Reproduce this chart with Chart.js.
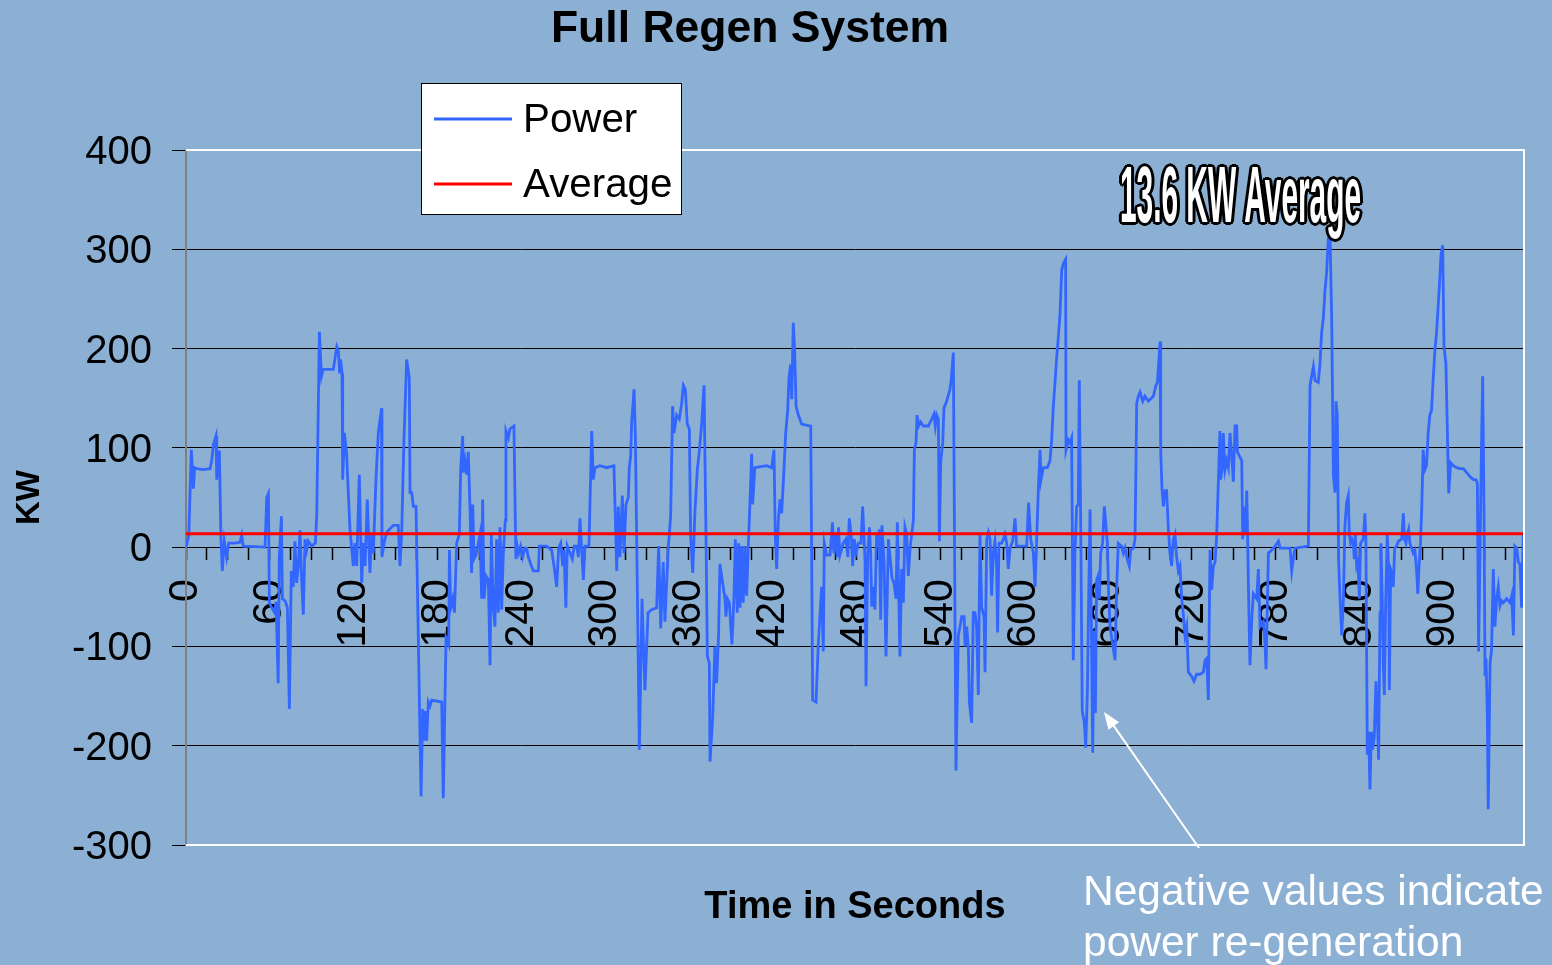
<!DOCTYPE html>
<html><head><meta charset="utf-8">
<script src="https://cdn.jsdelivr.net/npm/chart.js@4.4.1/dist/chart.umd.min.js"></script>
<style>
html,body{margin:0;padding:0;background:#8CB0D4;overflow:hidden}
#wrap{position:relative;width:1552px;height:965px}
</style></head><body>
<div id="wrap"><canvas id="c"></canvas></div>
<script>
const TITLE = 'Full Regen System';
const X_TITLE = 'Time in Seconds';
const Y_TITLE = 'KW';
const SERIES_NAMES = ['Power', 'Average'];
const AVERAGE_KW = 13.6;
const AVERAGE_LABEL = '13.6 KW Average';
const NOTE_LINES = ['Negative values indicate', 'power re-generation'];
const Y_MIN = -300, Y_MAX = 400, Y_STEP = 100;
const X_MIN = 0, X_MAX = 958, X_TICK_EVERY = 15, X_LABEL_EVERY = 60;

// time (s) of each read vertex
const times = [
0,2,3.8,5.3,6.2,7.6,12.4,17.2,18.4,19.6,21.5,22,22.9,23.9,25,26,27.4,29.1,30.5,35,38.7,39.9,41,56.6,57.8,59,59.7,61,63.5,64.5,66,66.8,68.3,69,71,72.6,74,75.4,76.8,78,79.2,80.4,81.6,82.8,84,85.2,86.4,87.5,90,92.6,93.6,95.5,97,98.2,105.5,108,109.1,110,110.7,111.7,112.2,113.4,114.9,117.4,119.8,121,122.2,124.1,125.8,127,128.2,129.8,131.7,132.9,134.1,136,137.7,140,140.3,141.8,143.7,148.4,152,153.2,154.4,156,158,159.9,160.4,
161.6,162.8,164.7,168.3,169.5,170.4,171.1,172.3,173.5,174.7,175.9,183.1,184.2,186.2,188.1,188.6,189.5,191,192.2,193.8,195.7,196.7,198.1,198.6,199.8,201,202.1,203.3,204.5,205.3,206.2,207.6,209.3,210.5,211.7,212.4,213.4,214.8,216.5,217.7,218.6,220,221.2,222.4,223.6,224.8,226,227.2,228.6,229.1,230.8,231.9,234.8,236.2,237.2,238.2,239.6,241,242.7,243.9,245.1,246.8,248.7,252.3,253,258.3,261.8,263.5,265.4,266.8,268.3,269.7,270.6,272,273,274.9,276.6,278,279.7,280.9,282.1,283.3,284.5,285.7,288.5,290.5,291.6,292.8,296.4,301.2,306.4,308.4,309.5,310.7,312.4,313.6,315,316.7,317.4,318.4,319.1,320.8,321.7,322.7,324.6,326.5,328.6,330.8,
333.4,337,338.4,339.9,341.7,342.9,345.3,347,348.4,349.4,351.3,353.2,354.9,356.1,357.5,358.9,360.4,361.3,362.8,364.4,366.1,367.5,369.2,370.9,372.3,373.3,374.7,375.2,377.1,378.7,379.9,381.3,382.3,383.5,385.9,386.6,387.6,389,390.9,392.3,393.3,394.7,395.7,396.7,397.9,399,400.2,401.4,402.6,403.8,405,405.7,407.3,415.7,419.3,421,421.9,422.9,424.1,425.3,426.5,427.7,429.4,430.8,431.7,432.9,433.7,434.8,435.8,436.8,438.4,440.8,447.3,448.7,451.1,452.7,455.1,456.3,457,458.7,461.1,462.9,463.9,465.3,466.3,467.2,468.2,470.6,472.5,473.9,474.9,476.3,477.3,478.5,479.7,481.4,483.3,484.5,486.2,486.9,488.1,489.3,490.2,491,492.1,493.3,494.5,495.7,
496.4,497.4,498.3,499.8,501.2,502.9,504.1,505.5,506.9,508.4,509.3,510.3,511.2,512.4,513.6,514.8,516,517.2,518.4,519.6,520.8,521.5,522.7,523.4,524.6,526,527.9,531.5,533.9,535.5,536.5,537.5,538.7,539.4,540.4,541.8,542.7,544.6,547,548,549.4,551.3,553,554.2,555.4,557.1,557.8,559,560.2,560.9,562.5,563.7,564.9,566.1,567.3,568.5,569.7,571.4,572.1,573.3,574.5,575.7,576.8,578,579.2,580.4,581.1,582.1,584,585.2,586.4,587.6,588.8,590,591.9,593.6,594.7,601.9,603.3,604.8,606.7,607.9,609.1,610.3,611.5,612.2,613.8,616.7,618.6,619.8,621,622.2,623.4,624.6,625.8,627,628.2,629.8,630.1,631.8,632.9,634.1,635.3,636.5,637.7,638.9,639.6,640.8,641.7,643.2,644.2,645.4,646.3,647.3,648.2,649.2,650.1,651.1,652,653,654,654.9,656.3,657.5,658.7,659.7,660.6,
661.6,665.2,666.3,667.5,669.9,671.1,672.3,673.5,675.4,676.4,678.3,679.5,680.7,681.9,683.1,685,686.6,689,692.6,694.5,695.5,696.4,697.4,697.9,698.8,699.8,701,702.1,703.3,704.5,705.7,706.9,708.1,709.3,710.5,711.7,712.9,714.1,715.3,716.5,717.7,720,721.7,723.6,726,728.4,729.6,730.8,732,733.2,734.4,735.6,736.8,738,739.2,740.3,740.8,741.8,742.7,743.9,745.1,746.3,747.5,748.7,749.9,751.1,752.3,752.8,754.2,755.9,756.6,757.6,758.5,759.5,760.2,760.7,761.8,763,764.2,766.6,767.8,769,771.4,772.6,773.3,775,777.4,779.8,782.2,783.4,790.5,791.7,792.8,794,803.6,804.8,807.2,808.4,810.7,811.9,813.1,814.3,815.5,816.7,817.9,819.1,820.3,821.5,
822.7,823.4,824.3,825.3,826.3,827.5,828.7,829.8,831,832.2,832.9,833.9,834.8,835.8,836.5,837.2,838.2,839.1,840.1,841,842.9,844.1,844.8,845.8,846.8,847.7,848.7,849.6,850.8,852,852.9,853.9,854.9,855.6,856.5,857.3,858,859,860.1,861.1,861.6,862.5,863.5,864.4,865.4,866.8,868,870.4,871.6,872.5,873.5,874.4,875.4,876.3,877.5,878.7,879.9,881.1,882,883,883.9,884.8,885.8,887,888.2,889.4,890.6,891.8,893,894.2,895.4,896.2,897.4,898.6,899.8,900.7,902.1,903.1,904.1,905.5,907.4,909.8,912.2,914.6,917,919.3,921.7,923.6,924.6,925.5,926.5,927.4,928.4,929.4,930.1,930.8,931.7,932.4,933.7,934.8,936,937.2,938.4,939.6,940.8,942,943.2,945.6,948,949.2,950.4,951.5,952.7,953.9,955.1,956.3,957.5,958
];

// power (kW) at each vertex
const power = [
0,12,98,59,80,79,78,79,87,103,112,68,96,96,10,-24,6,-10,4,4,5,12,1,0,50,54,-56,-60,-66,-55,-137,-10,31,-52,-54,-61,-163,-24,-40,6,-36,-19,17,-33,-68,8,-3,6,1,4,31,217,172,179,179,202,198,175,189,175,68,115,96,18,-19,4,-19,73,-36,4,-19,48,-26,13,-6,68,115,140,-10,4,15,22,22,-19,13,105,189,170,55,
55,41,41,-251,-163,-195,-165,-195,-156,-160,-154,-156,-253,-91,-98,-3,-61,-52,-66,4,13,80,112,75,87,73,96,41,-26,43,-12,-8,4,13,-52,48,-52,-29,-33,-119,13,-61,-80,8,-66,20,-63,-6,27,117,110,119,122,-12,1,-6,1,-10,-1,-1,-10,-17,-24,-24,1,1,-3,-19,-40,-1,4,-19,-3,-61,1,-6,-12,1,1,-10,29,-3,-33,1,1,117,68,80,82,80,82,-24,41,-10,52,-6,43,50,80,92,126,159,115,8,-204,-52,-144,-66,
-63,-61,1,-82,-15,-75,-1,31,142,115,133,129,145,163,159,124,119,13,-26,36,78,96,124,163,13,-110,-117,-216,-172,-100,-137,-89,-17,-29,-52,-70,-52,-56,-98,-52,8,-66,4,-61,1,-56,1,-49,1,45,94,43,80,82,80,98,13,-22,27,48,34,66,115,138,170,184,149,226,198,142,133,124,122,-154,-156,-98,-40,-105,4,-8,-8,25,-6,13,-10,20,-8,4,8,-10,29,13,-19,8,-6,4,4,41,-15,-140,-6,20,-6,-60,-40,-63,15,1,
18,-73,22,-15,-110,8,-10,-31,-36,-52,25,-47,-110,-22,-56,20,13,-29,-1,13,27,98,105,133,122,126,122,122,129,134,122,133,129,6,87,105,140,147,159,170,196,-225,-89,-80,-70,-70,-100,-80,-103,-156,-177,-66,-66,-80,-149,13,-61,-70,-126,8,15,8,-49,-6,6,-19,-86,4,4,8,13,4,-22,-1,6,29,1,1,45,8,-6,-40,8,59,98,68,80,80,87,108,142,166,191,212,235,279,286,290,98,108,105,110,-114,-6,41,43,168,-6,-165,-177,-202,-144,-52,38,-73,-207,-84,-167,-33,-29,-52,-6,4,41,22,4,-47,
-80,-114,-43,4,1,-6,-1,-10,-19,-3,-1,8,145,152,156,147,152,147,152,163,166,184,207,96,59,41,57,57,20,-6,-19,8,13,-10,-24,-19,-52,-68,-89,-80,-126,-130,-135,-128,-128,-126,-114,-112,-154,-3,-43,-19,-15,13,68,117,68,78,115,78,87,80,115,92,66,122,122,96,92,87,8,41,13,57,4,-40,-119,-75,-47,-52,-22,-80,-75,-98,-123,-6,-3,1,6,-1,-1,-24,-12,-1,1,163,182,168,166,184,216,230,258,277,311,315,230,73,
55,147,133,-15,-52,-89,-52,22,45,52,13,4,8,4,-12,13,-19,-15,-52,4,8,34,8,-209,-186,-244,-186,-204,-191,-135,-167,-214,-66,4,-52,-121,-149,-52,13,-24,-144,-22,-26,-40,-1,1,6,8,34,8,4,13,18,4,-1,-6,-3,-24,-47,-15,4,41,98,78,82,115,133,138,170,198,216,235,263,295,304,203,184,119,54,85,82,80,79,79,75,71,68,68,64,-105,-6,87,172,31,-130,-112,-163,-264,-117,-103,-22,-80,-52,-40,-59,-54,-56,-52,-56,-49,-89,1,-1,-15,-17,-61,13,13
];

const averageTimes = [X_MIN, X_MAX];

Chart.defaults.font.family = '"Liberation Sans", Arial, sans-serif';

const decor = {
  id: 'decor',
  afterDraw(chart) {
    const {ctx, chartArea: a} = chart;
    ctx.save();
    // plot-area frame (white) on top, right, bottom
    ctx.strokeStyle = '#FFFFFF';
    ctx.lineWidth = 2;
    ctx.beginPath();
    ctx.moveTo(a.left, a.top); ctx.lineTo(a.right, a.top);
    ctx.lineTo(a.right, a.bottom); ctx.lineTo(a.left, a.bottom);
    ctx.stroke();

    // title
    ctx.fillStyle = '#000';
    ctx.font = 'bold 44.5px "Liberation Sans", Arial, sans-serif';
    ctx.textAlign = 'center';
    ctx.textBaseline = 'alphabetic';
    ctx.fillText(TITLE, 750, 42);

    // legend
    ctx.fillStyle = '#FFFFFF';
    ctx.fillRect(421.5, 83.5, 260, 131);
    ctx.strokeStyle = '#000';
    ctx.lineWidth = 1;
    ctx.strokeRect(421.5, 83.5, 260, 131);
    ctx.textAlign = 'left';
    ctx.font = '40.3px "Liberation Sans", Arial, sans-serif';
    chart.data.datasets.forEach((ds, i) => {
      const y = 119 + i * 65;
      ctx.strokeStyle = ds.borderColor;
      ctx.lineWidth = 3;
      ctx.beginPath(); ctx.moveTo(434, y); ctx.lineTo(512, y); ctx.stroke();
      ctx.fillStyle = '#000';
      ctx.fillText(ds.label, 523, y + 13);
    });

    // "13.6 KW Average" outlined label
    ctx.font = 'bold 80px "Liberation Sans", Arial, sans-serif';
    const w = ctx.measureText(AVERAGE_LABEL).width;
    const sx = 241 / w;
    ctx.fillStyle = '#000';
    for (let dx = -3; dx <= 3; dx++) {
      for (let dy = -3; dy <= 3; dy++) {
        if (dx * dx + dy * dy > 9) continue;
        ctx.save();
        ctx.translate(1120 + dx, 222 + dy);
        ctx.scale(sx, 1);
        ctx.fillText(AVERAGE_LABEL, 0, 0);
        ctx.restore();
      }
    }
    ctx.fillStyle = '#FFFFFF';
    ctx.save();
    ctx.translate(1120, 222);
    ctx.scale(sx, 1);
    ctx.fillText(AVERAGE_LABEL, 0, 0);
    ctx.restore();

    // note text
    ctx.fillStyle = '#FFFFFF';
    ctx.font = '42.5px "Liberation Sans", Arial, sans-serif';
    ctx.fillText(NOTE_LINES[0], 1083, 905);
    ctx.fillText(NOTE_LINES[1], 1083, 956);

    // arrow
    const tail = [1199, 848], tip = [1104, 712];
    const dx = tip[0] - tail[0], dy = tip[1] - tail[1];
    const len = Math.hypot(dx, dy);
    const ux = dx / len, uy = dy / len;
    const px = -uy, py = ux;
    const hl = 17, hw = 6.5;
    const bx = tip[0] - hl * ux, by = tip[1] - hl * uy;
    ctx.strokeStyle = '#FFFFFF';
    ctx.lineWidth = 2;
    ctx.beginPath(); ctx.moveTo(tail[0], tail[1]); ctx.lineTo(bx, by); ctx.stroke();
    ctx.beginPath();
    ctx.moveTo(tip[0], tip[1]);
    ctx.lineTo(bx + hw * px, by + hw * py);
    ctx.lineTo(bx - hw * px, by - hw * py);
    ctx.closePath();
    ctx.fill();
    ctx.restore();
  }
};

new Chart(document.getElementById('c'), {
  type: 'line',
  data: {
    datasets: [
      {
        label: SERIES_NAMES[0],
        data: times.map((t, i) => ({x: t, y: power[i]})),
        borderColor: '#3366FF',
        borderWidth: 2.8,
        pointRadius: 0,
        tension: 0,
        order: 1,
        xAxisID: 'x', yAxisID: 'y'
      },
      {
        label: SERIES_NAMES[1],
        data: averageTimes.map(t => ({x: t, y: AVERAGE_KW})),
        borderColor: '#FF0000',
        borderWidth: 3,
        pointRadius: 0,
        tension: 0,
        order: 0,
        xAxisID: 'x', yAxisID: 'y'
      }
    ]
  },
  options: {
    responsive: true,
    maintainAspectRatio: false,
    animation: false,
    events: [],
    layout: {padding: {left: 0, top: 150, right: 28, bottom: 0}},
    plugins: {legend: {display: false}, title: {display: false}, tooltip: {enabled: false}},
    scales: {
      x: {
        type: 'linear',
        position: {y: 0},
        min: X_MIN, max: X_MAX,
        afterFit(s) { s.height = 0; s.paddingLeft = 0; s.paddingRight = 0; },
        grid: {drawOnChartArea: false, drawTicks: true, tickLength: 13, tickColor: '#000', tickWidth: 1.5},
        border: {display: false},
        ticks: {
          stepSize: X_TICK_EVERY, autoSkip: false, includeBounds: false,
          minRotation: 90, maxRotation: 90, padding: 19, color: '#000',
          font: {size: 41},
          callback: (v) => (v % X_LABEL_EVERY === 0 ? String(v) : '')
        }
      },
      x2: {
        type: 'linear',
        position: 'bottom',
        min: X_MIN, max: X_MAX,
        afterFit(s) { s.height = 120; s.paddingLeft = 0; s.paddingRight = 0; },
        ticks: {display: false},
        grid: {display: false},
        border: {display: false},
        title: {display: true, text: X_TITLE, color: '#000', font: {size: 38, weight: 'bold'}, padding: {top: 0, bottom: 35}}
      },
      y: {
        type: 'linear',
        position: 'left',
        min: Y_MIN, max: Y_MAX,
        afterFit(s) { s.width = 186; s.paddingTop = 0; s.paddingBottom = 0; },
        ticks: {stepSize: Y_STEP, color: '#000', font: {size: 40}, padding: 20, labelOffset: 3},
        grid: {color: '#000', lineWidth: 1, tickLength: 14, drawTicks: true},
        border: {color: '#808080', width: 2},
        title: {display: true, text: Y_TITLE, color: '#000', font: {size: 33, weight: 'bold'}, padding: {top: 10, bottom: 0}}
      }
    }
  },
  plugins: [decor]
});
</script>
</body></html>
